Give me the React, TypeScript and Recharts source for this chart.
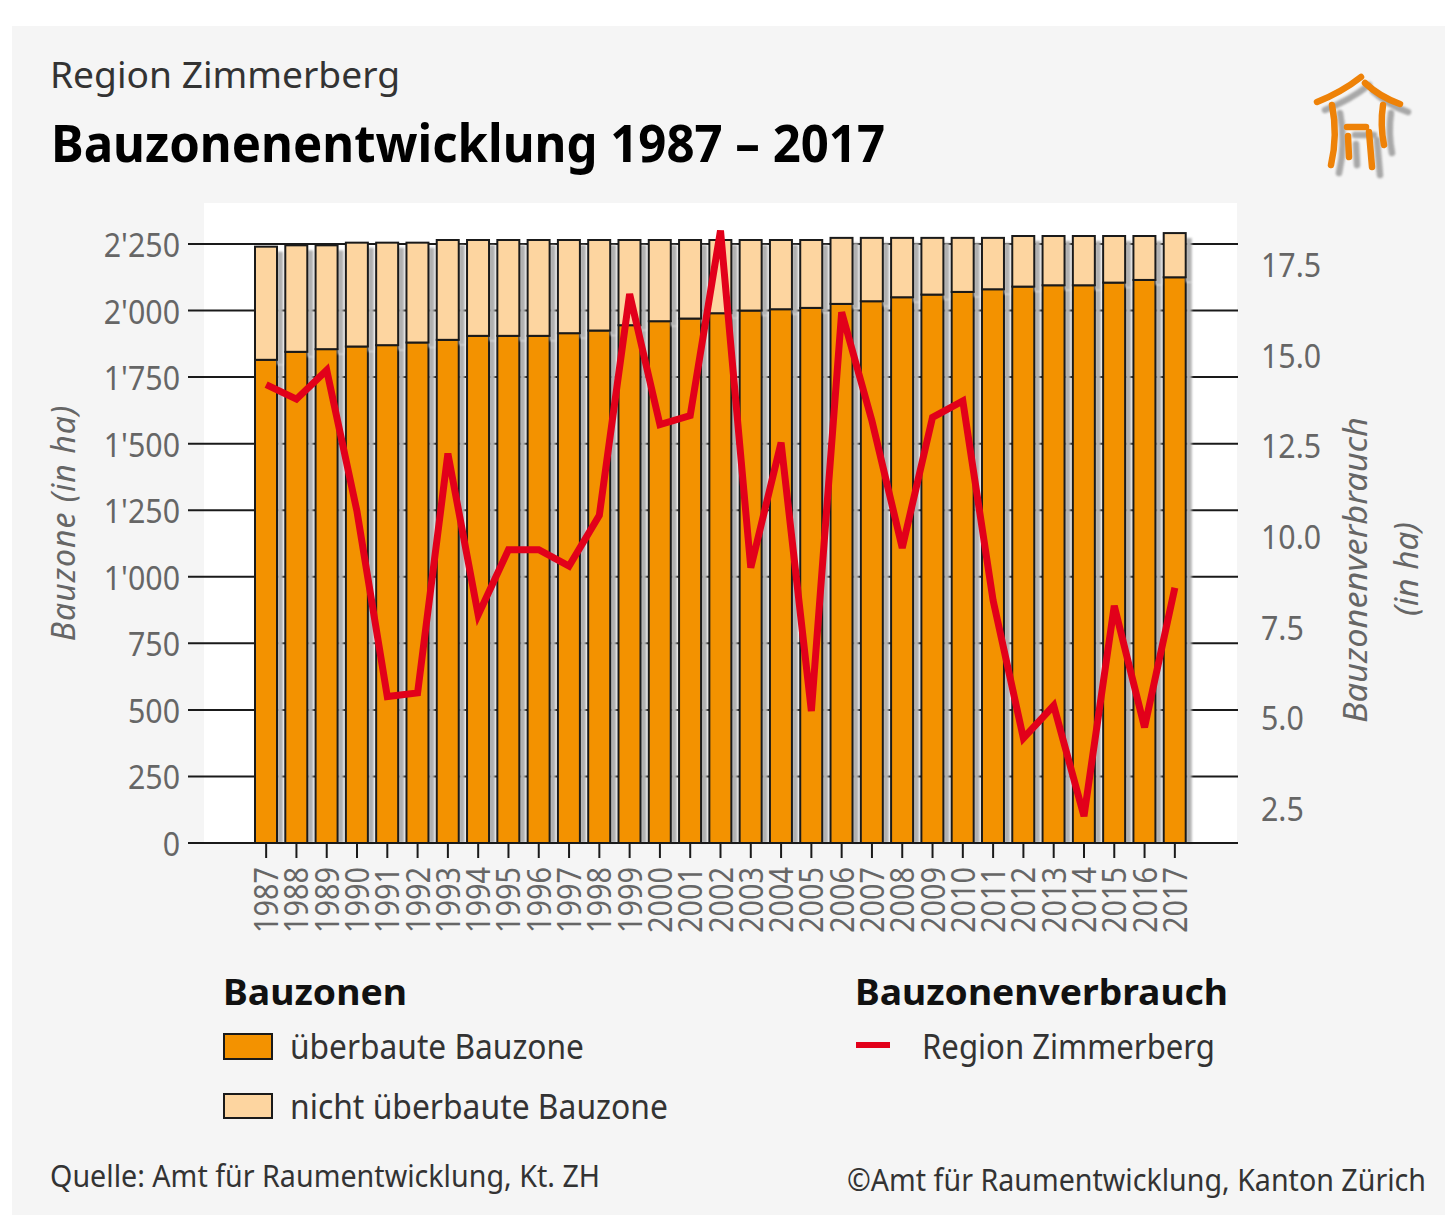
import { ComposedChart, Bar, Line, XAxis, YAxis, CartesianGrid } from "recharts";

const YEARS = [
  "1987", "1988", "1989", "1990", "1991", "1992", "1993", "1994", "1995", "1996", "1997",
  "1998", "1999", "2000", "2001", "2002", "2003", "2004", "2005", "2006", "2007", "2008",
  "2009", "2010", "2011", "2012", "2013", "2014", "2015", "2016", "2017",
];
const BUILT = [
  1815, 1845, 1855, 1865, 1870, 1880, 1890, 1905, 1905, 1905, 1915,
  1925, 1945, 1960, 1970, 1990, 2000, 2005, 2010, 2025, 2035, 2050,
  2060, 2070, 2080, 2090, 2095, 2095, 2105, 2115, 2125,
];
const UNBUILT = [
  425, 400, 390, 390, 385, 375, 375, 360, 360, 360, 350,
  340, 320, 305, 295, 275, 265, 260, 255, 248, 238, 223,
  213, 203, 193, 190, 185, 185, 175, 165, 166,
];
const USAGE = [
  14.2, 13.8, 14.6, 10.7, 5.6, 5.7, 12.3, 7.85, 9.65, 9.65, 9.2,
  10.6, 16.7, 13.1, 13.35, 18.45, 9.15, 12.6, 5.2, 16.2, 13.2, 9.7,
  13.3, 13.75, 8.25, 4.45, 5.35, 2.3, 8.1, 4.75, 8.6,
];
const LEFT_TICKS = [0, 250, 500, 750, 1000, 1250, 1500, 1750, 2000, 2250];
const RIGHT_TICKS = [2.5, 5, 7.5, 10, 12.5, 15, 17.5];

const data = YEARS.map((year, i) => ({
  year,
  built: BUILT[i],
  unbuilt: UNBUILT[i],
  usage: USAGE[i],
}));

const FONT = '"Noto Sans", sans-serif';
const ORANGE = "#f39200";
const PEACH = "#fdd5a0";
const RED = "#e2001a";
const INK = "#1a1a1a";
const AXIS_TEXT = "#666666";

const fmtLeft = (v: number) => (v >= 1000 ? `${Math.floor(v / 1000)}'${String(v % 1000).padStart(3, "0")}` : `${v}`);

// shadow only lives in the gap right of the bar, so it never paints over the lower segment
function ShadowBar({ x, y, width, height, fill, bottom }: any) {
  return (
    <g>
      <rect x={x + width} y={y + 5} width={6} height={Math.max(bottom ? height - 5 : height, 0)} fill="#b0b0b0" style={{ filter: "blur(0.8px)" }} />
      <rect x={x} y={y} width={width} height={height} fill={fill} stroke={INK} strokeWidth={2} />
    </g>
  );
}

function YearTick({ x, y, payload }: any) {
  return (
    <text
      transform={`translate(${x + 12},${y + 7}) rotate(-90)`}
      textAnchor="end"
      fontFamily={FONT}
      fontSize={33}
      fill={AXIS_TEXT}
      textLength={66}
      lengthAdjust="spacingAndGlyphs"
    >
      {payload.value}
    </text>
  );
}

function LeftTick({ x, y, payload }: any) {
  return (
    <text transform={`translate(${x + 11},${y + 13}) scale(0.92,1)`} textAnchor="end" fontFamily={FONT} fontSize={33} fill={AXIS_TEXT}>
      {fmtLeft(payload.value)}
    </text>
  );
}

function RightTick({ x, y, payload }: any) {
  return (
    <text transform={`translate(${x - 7},${y + 12}) scale(0.92,1)`} textAnchor="start" fontFamily={FONT} fontSize={33} fill={AXIS_TEXT}>
      {payload.value.toFixed(1)}
    </text>
  );
}

function RightLabel() {
  const common = { fontFamily: FONT, fontSize: 32, fontStyle: "italic", fill: AXIS_TEXT, textAnchor: "middle" as const };
  return (
    <g>
      <text {...common} transform="translate(1367,570) rotate(-90)" textLength={306} lengthAdjust="spacingAndGlyphs">
        Bauzonenverbrauch
      </text>
      <text {...common} transform="translate(1418,569) rotate(-90)" textLength={94} lengthAdjust="spacingAndGlyphs">
        (in ha)
      </text>
    </g>
  );
}

function Txt({ x, y, w, size, bold, fill, children }: any) {
  return (
    <text
      x={x}
      y={y}
      fontFamily={FONT}
      fontSize={size}
      fontWeight={bold ? 700 : 400}
      fill={fill || "#333"}
      textLength={w}
      lengthAdjust="spacingAndGlyphs"
    >
      {children}
    </text>
  );
}

function HouseIcon({ color, dx, blur }: { color: string; dx: number; blur?: boolean }) {
  return (
    <g
      transform={`translate(${dx},${dx})`}
      fill="none"
      stroke={color}
      strokeWidth={6.5}
      strokeLinecap="round"
      style={blur ? { filter: "blur(1.2px)" } : undefined}
    >
      <path d="M1317 102 Q1342 92 1361 77" />
      <path d="M1365 83 Q1380 97 1400 104" />
      <path d="M1332 105 Q1338 135 1331 165" />
      <path d="M1383 105 Q1380 125 1384 145" />
      <path d="M1347 127 L1366 127" />
      <path d="M1348 136 L1349 157" />
      <path d="M1369 132 L1372 167" />
    </g>
  );
}

export default function App() {
  return (
    <div style={{ position: "absolute", left: 0, top: 0, width: 1445, height: 1215, background: "#fff", overflow: "hidden" }}>
      <div style={{ position: "absolute", left: 12, top: 26, width: 1433, height: 1189, background: "#f5f5f5" }} />
      <div style={{ position: "absolute", left: 204, top: 203, width: 1033, height: 640, background: "#fff" }} />

      <div style={{ position: "absolute", left: 0, top: 0 }}>
        <ComposedChart
          width={1445}
          height={1215}
          data={data}
          barGap={0}
          margin={{ top: 203, right: 0, bottom: 0, left: 0 }}
        >
          <CartesianGrid horizontal vertical={false} yAxisId="left" syncWithTicks stroke={INK} strokeWidth={2} strokeOpacity={1} />
          <XAxis
            dataKey="year"
            height={372}
            padding={{ left: 63, right: 48 }}
            interval={0}
            tickSize={15}
            tick={<YearTick />}
            stroke={INK}
            strokeWidth={2}
          />
          <YAxis
            yAxisId="left"
            width={188}
            domain={[0, 2404]}
            ticks={LEFT_TICKS}
            interval={0}
            tickLine={false}
            axisLine={false}
            tickMargin={13}
            tick={<LeftTick />}
            label={{
              value: "Bauzone (in ha)",
              angle: -90,
              position: "insideLeft",
              offset: 64,
              style: { fontFamily: FONT, fontSize: 32, fontStyle: "italic", fill: AXIS_TEXT, textAnchor: "middle", letterSpacing: 1 },
            }}
          />
          <YAxis
            yAxisId="right"
            orientation="right"
            width={207}
            domain={[1.56, 19.21]}
            ticks={RIGHT_TICKS}
            interval={0}
            tickLine={false}
            axisLine={false}
            tickMargin={24}
            tick={<RightTick />}
            label={<RightLabel />}
          />
          <Bar yAxisId="left" dataKey="built" stackId="a" barSize={22} fill={ORANGE} shape={<ShadowBar bottom />} isAnimationActive={false} />
          <Bar yAxisId="left" dataKey="unbuilt" stackId="a" barSize={22} fill={PEACH} shape={<ShadowBar />} isAnimationActive={false} />
          <Line
            yAxisId="right"
            dataKey="usage"
            type="linear"
            stroke={RED}
            strokeWidth={7}
            strokeLinejoin="miter"
            dot={false}
            activeDot={false}
            isAnimationActive={false}
          />
        </ComposedChart>
      </div>

      <svg width={1445} height={1215} style={{ position: "absolute", left: 0, top: 0, pointerEvents: "none" }}>
        <Txt x={50} y={88} w={350} size={36}>Region Zimmerberg</Txt>
        <Txt x={51} y={162} w={834} size={52} bold fill="#000">Bauzonenentwicklung 1987 – 2017</Txt>

        <HouseIcon color="#a8a8a8" dx={8} blur />
        <HouseIcon color="#ee8208" dx={0} />

        <Txt x={223} y={1005} w={184} size={36} bold fill="#111">Bauzonen</Txt>
        <rect x={224} y={1034} width={48} height={25} fill={ORANGE} stroke={INK} strokeWidth={2} />
        <Txt x={290} y={1059} w={294} size={34}>überbaute Bauzone</Txt>
        <rect x={224} y={1094} width={48} height={24} fill={PEACH} stroke={INK} strokeWidth={2} />
        <Txt x={290} y={1119} w={378} size={34}>nicht überbaute Bauzone</Txt>

        <Txt x={855} y={1005} w={373} size={36} bold fill="#111">Bauzonenverbrauch</Txt>
        <line x1={856} y1={1045} x2={890} y2={1045} stroke={RED} strokeWidth={6} />
        <Txt x={922} y={1059} w={293} size={34}>Region Zimmerberg</Txt>

        <Txt x={50} y={1187} w={550} size={31}>Quelle:  Amt für Raumentwicklung, Kt.  ZH</Txt>
        <text transform="translate(847,1191) scale(0.923,1)" fontFamily={FONT} fontSize={31} fill="#333">
          ©Amt für Raumentwicklung, Kanton Zürich
        </text>
      </svg>
    </div>
  );
}
